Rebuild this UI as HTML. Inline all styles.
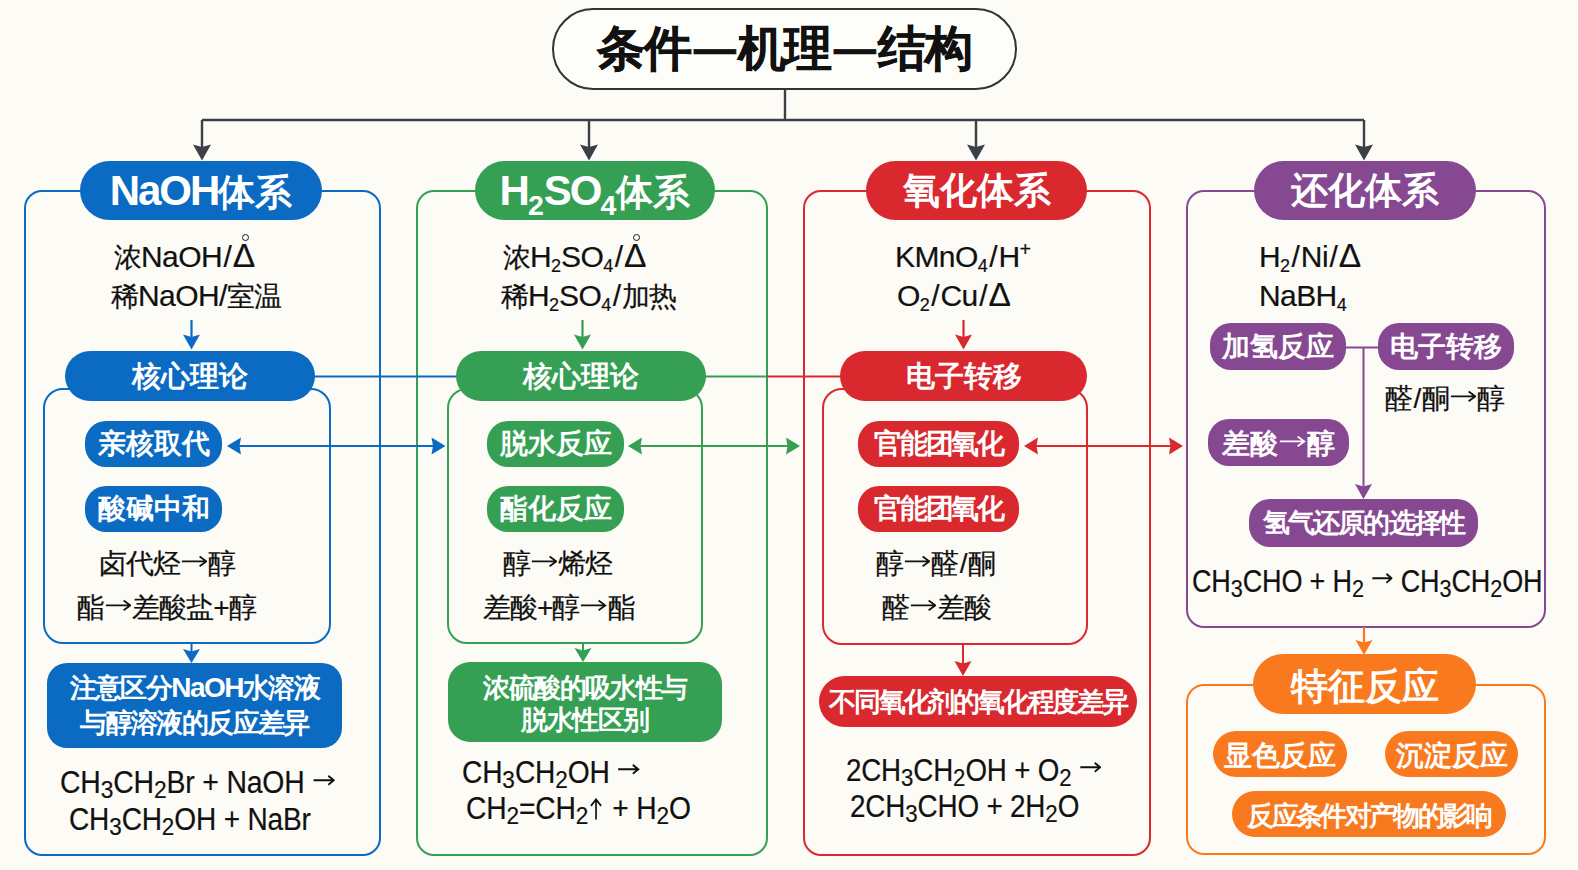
<!DOCTYPE html>
<html><head><meta charset="utf-8">
<style>
html,body{margin:0;padding:0;}
body{width:1578px;height:870px;background:#fcfbf6;position:relative;overflow:hidden;font-family:"Liberation Sans",sans-serif;}
.box{position:absolute;box-sizing:border-box;border:2px solid;}
.pill{position:absolute;box-sizing:border-box;display:flex;align-items:center;justify-content:center;color:#fff;font-weight:bold;white-space:nowrap;}
.pill>span{display:block;line-height:1;}
.t{position:absolute;white-space:nowrap;color:#111;line-height:1;-webkit-text-stroke:0.2px #111;}
.bb{background:#0b6bc3;} .gb{background:#35a054;} .rb{background:#d9282e;} .pb{background:#864891;} .ob{background:#f97a1e;}
.h1{height:59px;top:161px;border-radius:30px;font-size:37px;}
.h1 .L{font-size:42px;letter-spacing:-2px;}
.h2{height:50px;top:351px;border-radius:25px;font-size:29px;}
.it{height:46px;border-radius:21px;font-size:28px;}
.c{font-size:28px;letter-spacing:-1px;}
.c .L{font-size:30px;letter-spacing:-0.6px;}
.c sub{font-size:0.6em;vertical-align:-0.25em;}
.f{font-size:31px;letter-spacing:-0.2px;transform-origin:0 0;}
.f sub{font-size:0.8em;vertical-align:-0.2em;}
.f svg.ar{width:0.78em;margin:0 0.02em;}
sub{font-size:0.68em;vertical-align:-0.36em;line-height:0;letter-spacing:0;}
sup{font-size:0.66em;vertical-align:0.55em;line-height:0;letter-spacing:0;}
svg.ar{display:inline-block;width:0.95em;height:0.6em;vertical-align:0.12em;margin:0 0.03em;}
svg.up{display:inline-block;width:0.5em;height:0.72em;vertical-align:-0.04em;margin:0 0.04em;}
svg.lay{position:absolute;left:0;top:0;}
.d{font-style:normal;display:inline-block;transform:scaleX(0.88);}
.sl{margin:0 1.5px;}
.dl{font-size:1.12em;line-height:0;}
.dr{position:relative;}
.dr::before{content:'';position:absolute;left:50%;margin-left:-1.5px;top:-3px;width:5px;height:5px;border:1.4px solid #141414;border-radius:50%;}
</style></head><body>

<!-- title -->
<div class="pill" style="left:552px;top:8px;width:465px;height:82px;border:2.5px solid #333;border-radius:41px;color:#111;background:#fdfdfa;font-size:48px;"><span style="letter-spacing:-1.2px;-webkit-text-stroke:0.5px #111;">条件<i class="d">—</i>机理<i class="d">—</i>结构</span></div>

<!-- outer boxes -->
<div class="box" style="left:24px;top:190px;width:357px;height:666px;border-color:#0b6bc3;border-radius:18px;"></div>
<div class="box" style="left:416px;top:190px;width:352px;height:666px;border-color:#35a054;border-radius:18px;"></div>
<div class="box" style="left:803px;top:190px;width:348px;height:666px;border-color:#d9282e;border-radius:18px;"></div>
<div class="box" style="left:1186px;top:190px;width:360px;height:438px;border-color:#864891;border-radius:18px;"></div>
<div class="box" style="left:1186px;top:684px;width:360px;height:171px;border-color:#f97a1e;border-radius:18px;"></div>

<!-- inner boxes -->
<div class="box" style="left:43px;top:388px;width:288px;height:256px;border-color:#0b6bc3;border-radius:20px;"></div>
<div class="box" style="left:447px;top:388px;width:256px;height:256px;border-color:#35a054;border-radius:20px;"></div>
<div class="box" style="left:822px;top:388px;width:266px;height:257px;border-color:#d9282e;border-radius:20px;"></div>

<svg class="lay" width="1578" height="870" viewBox="0 0 1578 870">
  <path d="M785 90 V120 M202 120 H1364 M202 120 V150 M589 120 V150 M976 120 V150 M1364 120 V150" stroke="#3a3f48" stroke-width="2.4" fill="none"/>
  <path d="M193 144.5 L202 147 L211 144.5 L202 160.5 Z M580 144.5 L589 147 L598 144.5 L589 160.5 Z M967 144.5 L976 147 L985 144.5 L976 160.5 Z M1355 144.5 L1364 147 L1373 144.5 L1364 160.5 Z" fill="#3a3f48"/>
  <path d="M300 376.5 H460" stroke="#0b6bc3" stroke-width="2"/>
  <path d="M700 376.5 H767" stroke="#35a054" stroke-width="2"/>
  <path d="M767 376.5 H845" stroke="#d9282e" stroke-width="2"/>
  <path d="M191.5 320 V340" stroke="#0b6bc3" stroke-width="2.2"/><path d="M183 334.5 L191.5 337 L200 334.5 L191.5 349.5 Z" fill="#0b6bc3"/>
  <path d="M582.5 320 V340" stroke="#35a054" stroke-width="2.2"/><path d="M574 334.5 L582.5 337 L591 334.5 L582.5 349.5 Z" fill="#35a054"/>
  <path d="M963.5 320 V340" stroke="#d9282e" stroke-width="2.2"/><path d="M955 334.5 L963.5 337 L972 334.5 L963.5 349.5 Z" fill="#d9282e"/>
  <path d="M237 446 H435.5" stroke="#0b6bc3" stroke-width="2"/><path d="M241 437.5 L239.5 446 L241 454.5 L227 446 Z M431.5 437.5 L433 446 L431.5 454.5 L445.5 446 Z" fill="#0b6bc3"/>
  <path d="M638 446 H790" stroke="#35a054" stroke-width="2"/><path d="M642 437.5 L640.5 446 L642 454.5 L628 446 Z M786 437.5 L787.5 446 L786 454.5 L800 446 Z" fill="#35a054"/>
  <path d="M1034 446 H1173" stroke="#d9282e" stroke-width="2"/><path d="M1038 437.5 L1036.5 446 L1038 454.5 L1024 446 Z M1169 437.5 L1170.5 446 L1169 454.5 L1183 446 Z" fill="#d9282e"/>
  <path d="M191.5 643 V652" stroke="#0b6bc3" stroke-width="2"/><path d="M183 649 L191.5 651.5 L200 649 L191.5 663 Z" fill="#0b6bc3"/>
  <path d="M583 643 V652" stroke="#35a054" stroke-width="2"/><path d="M574.5 648 L583 650.5 L591.5 648 L583 662 Z" fill="#35a054"/>
  <path d="M963 644 V664" stroke="#d9282e" stroke-width="2"/><path d="M954.5 661 L963 663.5 L971.5 661 L963 676 Z" fill="#d9282e"/>
  <path d="M1340 347.6 H1385 M1363.5 347.6 V487" stroke="#864891" stroke-width="2"/><path d="M1355 484 L1363.5 486.5 L1372 484 L1363.5 499 Z" fill="#864891"/>
  <path d="M1364 627 V644" stroke="#f97a1e" stroke-width="2.2"/><path d="M1355.5 640 L1364 642.5 L1372.5 640 L1364 655 Z" fill="#f97a1e"/>
</svg>

<!-- header pills -->
<div class="pill h1 bb" style="left:80px;width:242px;"><span><span class="L">NaOH</span>体系</span></div>
<div class="pill h1 gb" style="left:475px;width:240px;"><span><span class="L">H<sub>2</sub>SO<sub>4</sub></span>体系</span></div>
<div class="pill h1 rb" style="left:866px;width:221px;"><span>氧化体系</span></div>
<div class="pill h1 pb" style="left:1254px;width:222px;"><span>还化体系</span></div>
<div class="pill h1 ob" style="left:1253px;width:223px;top:654px;height:60px;padding-top:5px;"><span>特征反应</span></div>

<!-- condition text -->
<div class="t c" style="left:114px;top:242px;">浓<span class="L">NaOH<span class="sl">/</span><span class="dl dr">Δ</span></span></div>
<div class="t c" style="left:111px;top:281px;">稀<span class="L">NaOH/</span>室温</div>
<div class="t c" style="left:503px;top:242px;">浓<span class="L">H<sub>2</sub>SO<sub>4</sub><span class="sl">/</span><span class="dl dr">Δ</span></span></div>
<div class="t c" style="left:501px;top:281px;">稀<span class="L">H<sub>2</sub>SO<sub>4</sub><span class="sl">/</span></span>加热</div>
<div class="t c" style="left:895px;top:242px;"><span class="L">KMnO<sub>4</sub><span class="sl">/</span>H<sup>+</sup></span></div>
<div class="t c" style="left:897px;top:281px;"><span class="L">O<sub>2</sub><span class="sl">/</span>Cu<span class="sl">/</span><span class="dl">Δ</span></span></div>
<div class="t c" style="left:1259px;top:242px;"><span class="L">H<sub>2</sub><span class="sl">/</span>Ni<span class="sl">/</span><span class="dl">Δ</span></span></div>
<div class="t c" style="left:1259px;top:281px;"><span class="L">NaBH<sub>4</sub></span></div>

<!-- core pills -->
<div class="pill h2 bb" style="left:65px;width:250px;"><span>核心理论</span></div>
<div class="pill h2 gb" style="left:456px;width:250px;"><span>核心理论</span></div>
<div class="pill h2 rb" style="left:840px;width:247px;"><span>电子转移</span></div>

<!-- item pills -->
<div class="pill it bb" style="left:85px;width:137px;top:421px;"><span>亲核取代</span></div>
<div class="pill it bb" style="left:85px;width:137px;top:486px;"><span>酸碱中和</span></div>
<div class="pill it gb" style="left:487px;width:137px;top:421px;"><span>脱水反应</span></div>
<div class="pill it gb" style="left:487px;width:137px;top:486px;"><span>酯化反应</span></div>
<div class="pill it rb" style="left:858px;width:161px;top:421px;"><span style="letter-spacing:-2.2px;">官能团氧化</span></div>
<div class="pill it rb" style="left:858px;width:161px;top:486px;"><span style="letter-spacing:-2.2px;">官能团氧化</span></div>
<div class="pill it pb" style="left:1210px;width:136px;top:323px;height:47px;"><span>加氢反应</span></div>
<div class="pill it pb" style="left:1378px;width:136px;top:323px;height:47px;"><span>电子转移</span></div>
<div class="pill it pb" style="left:1208px;width:141px;top:419px;height:47px;padding-top:3px;"><span>差酸<svg class="ar" viewBox="0 0 30 16"><path d="M1 8H28M21 2.5L28.5 8L21 13.5" stroke="currentColor" fill="none" stroke-width="2"/></svg>醇</span></div>
<div class="pill it pb" style="left:1249px;width:229px;top:499px;height:48px;font-size:27px;"><span style="letter-spacing:-1.8px;">氢气还原的选择性</span></div>
<div class="pill it ob" style="left:1213px;width:134px;top:731px;border-radius:23px;padding-top:3px;"><span>显色反应</span></div>
<div class="pill it ob" style="left:1385px;width:133px;top:731px;border-radius:23px;padding-top:3px;"><span>沉淀反应</span></div>
<div class="pill it ob" style="left:1232px;width:274px;top:791px;border-radius:23px;font-size:27px;padding-top:4px;"><span style="letter-spacing:-2.7px;">反应条件对产物的影响</span></div>

<!-- body text -->
<div class="t c" style="left:99px;top:550px;">卤代烃<svg class="ar" viewBox="0 0 30 16"><path d="M1 8H28M21 2.5L28.5 8L21 13.5" stroke="currentColor" fill="none" stroke-width="2"/></svg>醇</div>
<div class="t c" style="left:77px;top:594px;">酯<svg class="ar" viewBox="0 0 30 16"><path d="M1 8H28M21 2.5L28.5 8L21 13.5" stroke="currentColor" fill="none" stroke-width="2"/></svg>差酸盐+醇</div>
<div class="t c" style="left:503px;top:550px;">醇<svg class="ar" viewBox="0 0 30 16"><path d="M1 8H28M21 2.5L28.5 8L21 13.5" stroke="currentColor" fill="none" stroke-width="2"/></svg>烯烃</div>
<div class="t c" style="left:483px;top:594px;">差酸+醇<svg class="ar" viewBox="0 0 30 16"><path d="M1 8H28M21 2.5L28.5 8L21 13.5" stroke="currentColor" fill="none" stroke-width="2"/></svg>酯</div>
<div class="t c" style="left:876px;top:550px;">醇<svg class="ar" viewBox="0 0 30 16"><path d="M1 8H28M21 2.5L28.5 8L21 13.5" stroke="currentColor" fill="none" stroke-width="2"/></svg>醛<span class="sl">/</span>酮</div>
<div class="t c" style="left:882px;top:594px;">醛<svg class="ar" viewBox="0 0 30 16"><path d="M1 8H28M21 2.5L28.5 8L21 13.5" stroke="currentColor" fill="none" stroke-width="2"/></svg>差酸</div>
<div class="t c" style="left:1385px;top:385px;">醛<span class="sl">/</span>酮<svg class="ar" viewBox="0 0 30 16"><path d="M1 8H28M21 2.5L28.5 8L21 13.5" stroke="currentColor" fill="none" stroke-width="2"/></svg>醇</div>

<!-- summary boxes -->
<div class="pill bb" style="left:47px;top:663px;width:295px;height:85px;border-radius:20px;font-size:27px;text-align:center;"><span style="line-height:35.5px;letter-spacing:-1.6px;">注意区分<span style="font-size:28px;letter-spacing:-1.5px;">NaOH</span>水溶液<br>与醇溶液的反应差异</span></div>
<div class="pill gb" style="left:448px;top:662px;width:274px;height:80px;border-radius:22px;font-size:27px;text-align:center;padding-top:4px;"><span style="line-height:32px;letter-spacing:-1.6px;">浓硫酸的吸水性与<br>脱水性区别</span></div>
<div class="pill rb" style="left:819px;top:676px;width:318px;height:51px;border-radius:26px;font-size:27px;padding-top:2px;"><span style="letter-spacing:-2.2px;">不同氧化剂的氧化程度差异</span></div>

<!-- formulas -->
<div class="t f" style="left:60px;top:767px;transform:scaleX(0.916);">CH<sub>3</sub>CH<sub>2</sub>Br + NaOH <svg class="ar" viewBox="0 0 30 16"><path d="M1 8H28M21 2.5L28.5 8L21 13.5" stroke="currentColor" fill="none" stroke-width="2.4"/></svg></div>
<div class="t f" style="left:69px;top:804px;transform:scaleX(0.905);">CH<sub>3</sub>CH<sub>2</sub>OH + NaBr</div>
<div class="t f" style="left:462px;top:756.5px;transform:scaleX(0.909);">CH<sub>3</sub>CH<sub>2</sub>OH <svg class="ar" viewBox="0 0 30 16"><path d="M1 8H28M21 2.5L28.5 8L21 13.5" stroke="currentColor" fill="none" stroke-width="2.4"/></svg></div>
<div class="t f" style="left:466px;top:793px;transform:scaleX(0.911);">CH<sub>2</sub>=CH<sub>2</sub><svg class="up" viewBox="0 0 16 24"><path d="M8 23V2M2 8.5L8 1.5L14 8.5" stroke="currentColor" fill="none" stroke-width="2"/></svg> + H<sub>2</sub>O</div>
<div class="t f" style="left:846px;top:754.5px;transform:scaleX(0.895);">2CH<sub>3</sub>CH<sub>2</sub>OH + O<sub>2</sub> <svg class="ar" viewBox="0 0 30 16"><path d="M1 8H28M21 2.5L28.5 8L21 13.5" stroke="currentColor" fill="none" stroke-width="2.4"/></svg></div>
<div class="t f" style="left:850px;top:790.5px;transform:scaleX(0.898);">2CH<sub>3</sub>CHO + 2H<sub>2</sub>O</div>
<div class="t f" style="left:1192px;top:565.5px;transform:scaleX(0.872);">CH<sub>3</sub>CHO + H<sub>2</sub> <svg class="ar" viewBox="0 0 30 16"><path d="M1 8H28M21 2.5L28.5 8L21 13.5" stroke="currentColor" fill="none" stroke-width="2.4"/></svg> CH<sub>3</sub>CH<sub>2</sub>OH</div>

</body></html>
